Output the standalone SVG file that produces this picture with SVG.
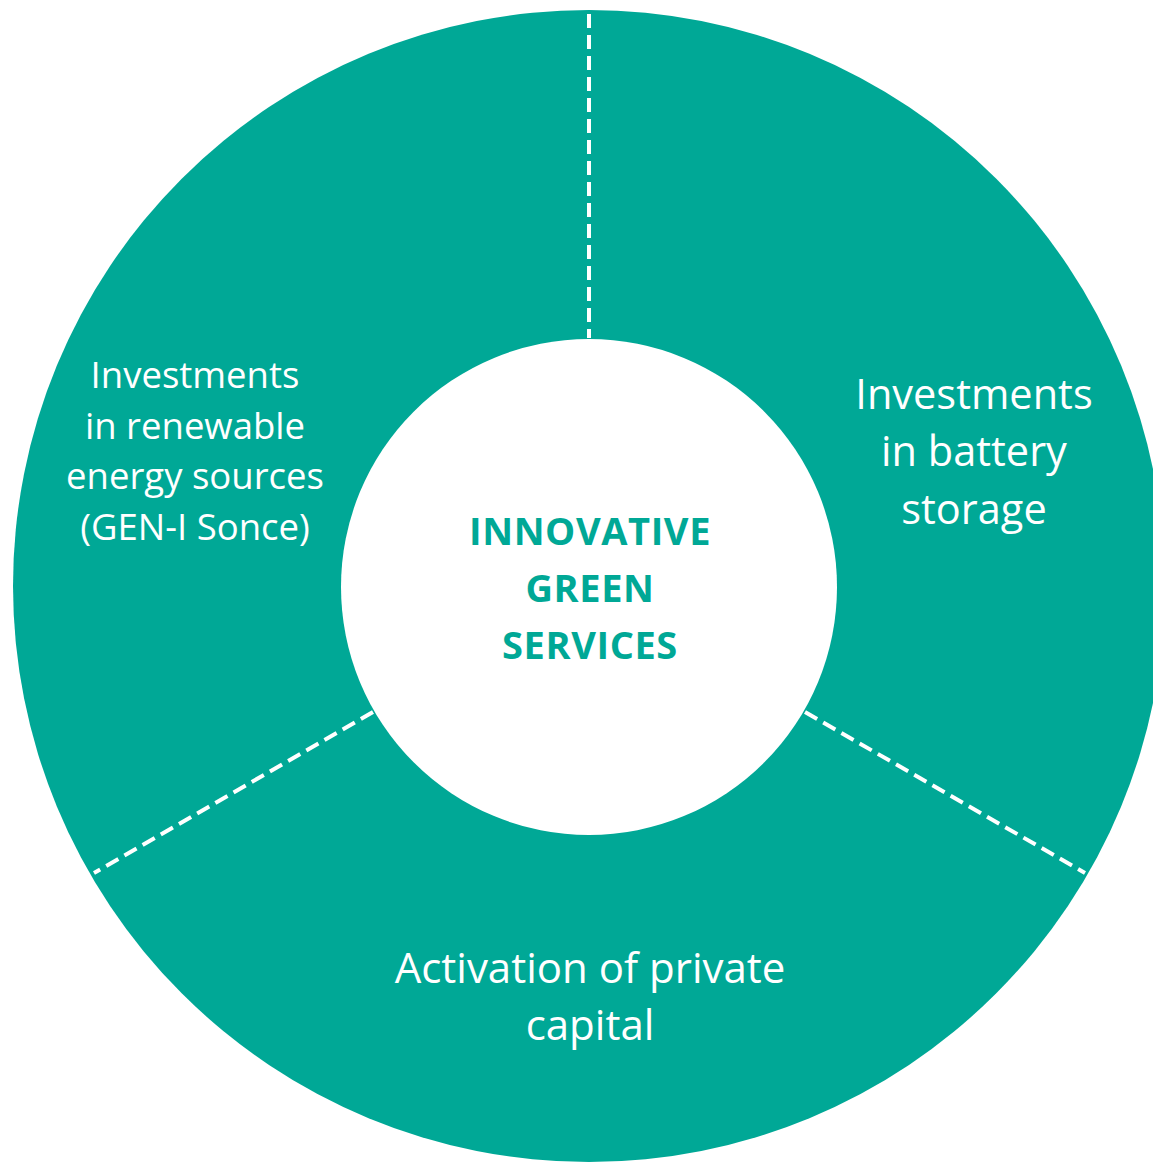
<svg xmlns="http://www.w3.org/2000/svg" width="1153" height="1163" viewBox="0 0 1153 1163">
  <style>
    .seg { fill: #00A896; }
    .hole { fill: #FFFFFF; }
    .div { stroke: #FFFFFF; stroke-width: 4; stroke-dasharray: 14 7; fill: none; }
    .lbl { font-family: "Open Sans", "Noto Sans", sans-serif; fill: #FFFFFF; text-anchor: middle; }
    .ctr { font-family: "Open Sans", "Noto Sans", sans-serif; font-weight: bold; fill: #00A896; text-anchor: middle; font-size: 38px; letter-spacing: 0.6px; }
  </style>
  <rect width="1153" height="1163" fill="#FFFFFF"/>
  <g id="ring">
    <circle class="seg" cx="589" cy="586" r="576"/>
  </g>
  <g id="center">
    <circle class="hole" cx="589" cy="587" r="248"/>
    <text class="ctr" x="590" y="545">INNOVATIVE</text>
    <text class="ctr" x="590" y="602">GREEN</text>
    <text class="ctr" x="590" y="659">SERVICES</text>
  </g>
  <g id="connectors">
    <line class="div" x1="589" y1="14" x2="589" y2="338"/>
    <line class="div" x1="373" y1="712" x2="94" y2="873"/>
    <line class="div" x1="805" y1="712" x2="1085" y2="873"/>
  </g>
  <g id="renewables">
    <text class="lbl" font-size="36.5" x="195" y="388">Investments</text>
    <text class="lbl" font-size="36.5" x="195" y="439">in renewable</text>
    <text class="lbl" font-size="36.5" x="195" y="489">energy sources</text>
    <text class="lbl" font-size="36.5" x="195" y="540">(GEN-I Sonce)</text>
  </g>
  <g id="battery">
    <text class="lbl" font-size="41.5" x="974" y="409">Investments</text>
    <text class="lbl" font-size="41.5" x="974" y="466">in battery</text>
    <text class="lbl" font-size="41.5" x="974" y="524">storage</text>
  </g>
  <g id="capital">
    <text class="lbl" font-size="42" x="590" y="983">Activation of private</text>
    <text class="lbl" font-size="42" x="590" y="1040">capital</text>
  </g>
</svg>
